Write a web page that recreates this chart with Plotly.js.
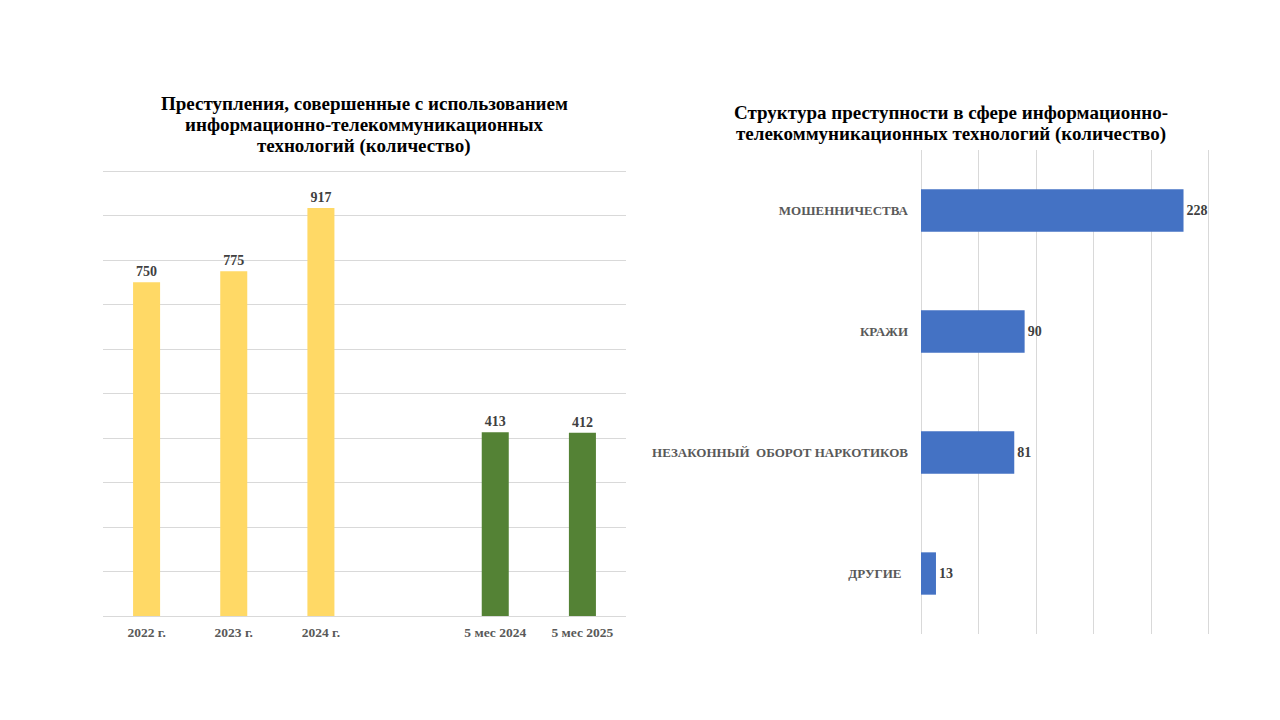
<!DOCTYPE html>
<html>
<head>
<meta charset="utf-8">
<script src="https://cdn.plot.ly/plotly-3.0.1.min.js"></script>
<style>html,body{margin:0;padding:0;background:#fff;}#chart{width:1280px;height:720px;}</style>
</head>
<body>
<div id="chart"></div>
<script>
// Left chart data
const leftCategories = ['2022 г.', '2023 г.', '2024 г.', ' ', '5 мес 2024', '5 мес 2025'];
const leftYearValues = [750, 775, 917, null, null, null];
const leftMonthValues = [null, null, null, null, 413, 412];
const leftTitleLines = ['Преступления, совершенные с использованием', 'информационно-телекоммуникационных', 'технологий (количество)'];

// Right chart data
const rightCategories = ['МОШЕННИЧЕСТВА', 'КРАЖИ', 'НЕЗАКОННЫЙ\u00a0\u00a0ОБОРОТ НАРКОТИКОВ', 'ДРУГИЕ\u00a0\u00a0'];
const rightValues = [228, 90, 81, 13];
const rightTitleLines = ['Структура преступности в сфере информационно-', 'телекоммуникационных технологий (количество)'];

const serif = 'Liberation Serif, Times New Roman, serif';
const labelFont = {family: serif, size: 14, color: '#404040', weight: 'bold'};

function fmt(arr) { return arr.map(v => v === null ? '' : String(v)); }

const traces = [
  {
    type: 'bar', x: leftCategories, y: leftYearValues, xaxis: 'x', yaxis: 'y',
    marker: {color: '#FFD966'}, width: 0.31,
    text: fmt(leftYearValues), textposition: 'outside', textfont: labelFont,
    cliponaxis: false, hoverinfo: 'skip'
  },
  {
    type: 'bar', x: leftCategories, y: leftMonthValues, xaxis: 'x', yaxis: 'y',
    marker: {color: '#548235'}, width: 0.31,
    text: fmt(leftMonthValues), textposition: 'outside', textfont: labelFont,
    cliponaxis: false, hoverinfo: 'skip'
  },
  {
    type: 'bar', orientation: 'h', x: rightValues, y: rightCategories, xaxis: 'x2', yaxis: 'y2',
    marker: {color: '#4472C4'}, width: 0.35,
    text: fmt(rightValues), textposition: 'outside', textfont: labelFont,
    cliponaxis: false, hoverinfo: 'skip'
  }
];

function titleAnnotations(lines, cx, firstCenterY, step) {
  return lines.map((t, i) => ({
    text: '<b>' + t + '</b>', xref: 'paper', yref: 'paper',
    x: cx / 1280, y: (720 - (firstCenterY + i * step)) / 720,
    xanchor: 'center', yanchor: 'middle', showarrow: false,
    font: {family: serif, size: 19, color: '#000000'}
  }));
}

const layout = {
  width: 1280, height: 720,
  margin: {l: 0, r: 0, t: 0, b: 0},
  paper_bgcolor: '#ffffff', plot_bgcolor: '#ffffff',
  showlegend: false, barmode: 'overlay',
  font: {family: serif, color: '#404040'},
  xaxis: {
    domain: [103/1280, 626/1280], anchor: 'y',
    type: 'category', categoryorder: 'array', categoryarray: leftCategories,
    showgrid: false, showline: false, zeroline: false,
    ticks: '', ticklabelstandoff: 6,
    tickfont: {family: serif, size: 13.5, color: '#595959', weight: 'bold'},
    fixedrange: true
  },
  yaxis: {
    domain: [(720-616)/720, (720-168.8)/720], anchor: 'x',
    range: [0, 1005], tick0: 0, dtick: 100, showticklabels: false,
    showgrid: true, gridcolor: '#d9d9d9', gridwidth: 1,
    zeroline: true, zerolinecolor: '#d9d9d9', zerolinewidth: 1,
    showline: false, ticks: '', fixedrange: true
  },
  xaxis2: {
    domain: [921/1280, 1210/1280], anchor: 'y2',
    range: [0, 251], tick0: 0, dtick: 50, showticklabels: false,
    showgrid: true, gridcolor: '#d9d9d9', gridwidth: 1,
    zeroline: true, zerolinecolor: '#d9d9d9', zerolinewidth: 1,
    showline: false, ticks: '', fixedrange: true
  },
  yaxis2: {
    domain: [(720-634)/720, (720-150)/720], anchor: 'x2',
    type: 'category', autorange: 'reversed',
    showgrid: false, showline: false, zeroline: false, ticks: '',
    ticklabelstandoff: 12,
    tickfont: {family: serif, size: 13, color: '#595959', weight: 'bold'},
    fixedrange: true
  },
  annotations: [
    ...titleAnnotations(leftTitleLines, 364, 103, 21.5),
    ...titleAnnotations(rightTitleLines, 951, 112, 22)
  ]
};

Plotly.newPlot('chart', traces, layout, {displayModeBar: false, staticPlot: true});
</script>
</body>
</html>
